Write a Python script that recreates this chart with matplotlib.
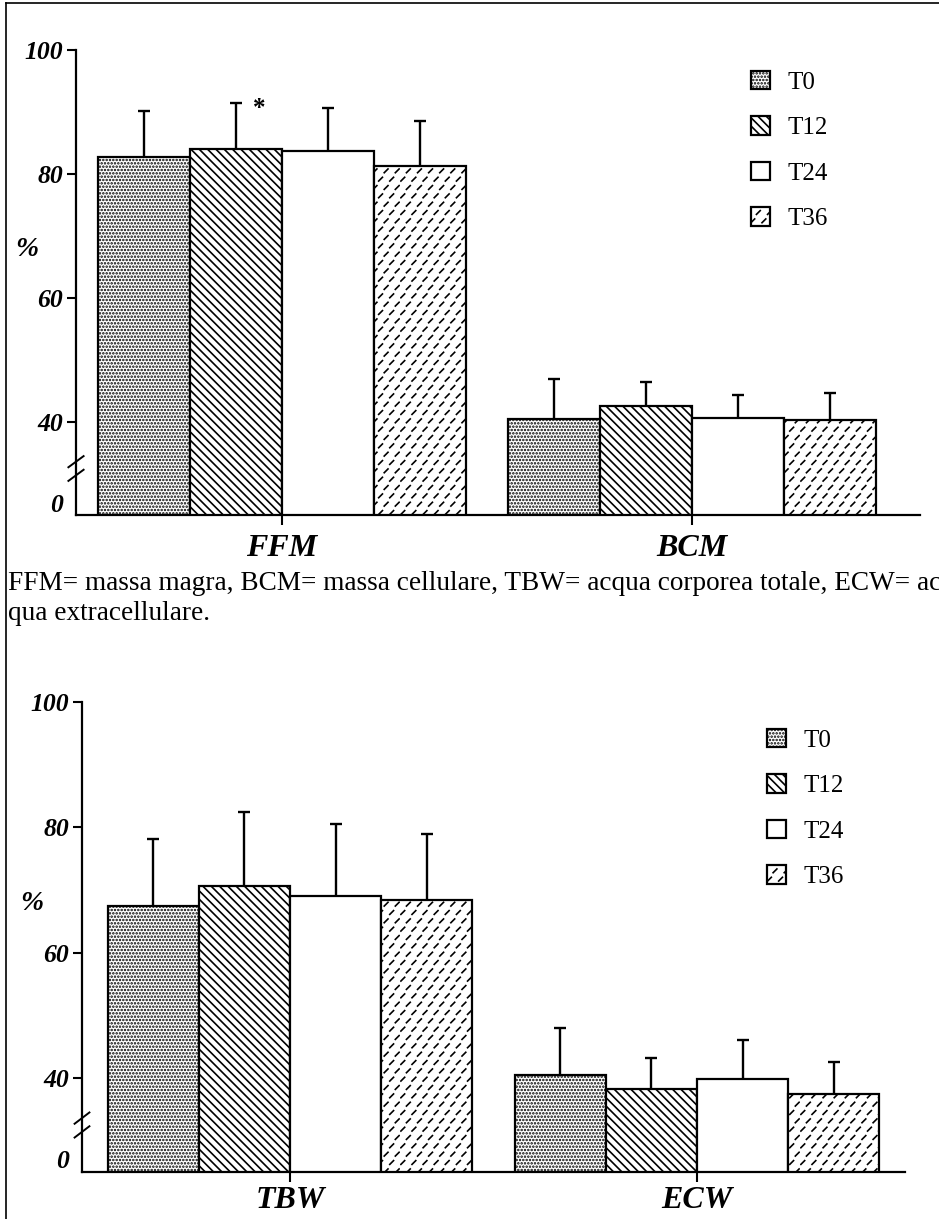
import warnings
import numpy as np
import matplotlib
matplotlib.use('Agg')
import matplotlib.pyplot as plt
import matplotlib.hatch as mhatch
from matplotlib.path import Path
from matplotlib.lines import Line2D

warnings.filterwarnings('ignore')

# dati (media e DS, in %)
series = ['T0', 'T12', 'T24', 'T36']
top_groups = ['FFM', 'BCM']
top_mean = [[82.8, 84.1, 83.7, 81.3], [40.5, 42.5, 40.6, 40.3]]
top_sd = [[7.3, 7.4, 6.9, 7.2], [6.4, 4.0, 3.8, 4.3]]
bottom_groups = ['TBW', 'ECW']
bottom_mean = [[67.5, 70.7, 69.1, 68.4], [40.5, 38.2, 39.9, 37.4]]
bottom_sd = [[10.6, 11.7, 11.4, 10.5], [7.4, 5.0, 6.1, 5.2]]
ytick_vals = [27, 40, 60, 80, 100]
ytick_labels = ['0', '40', '60', '80', '100']
caption = ('FFM= massa magra, BCM= massa cellulare, TBW= acqua corporea totale, ECW= ac\n'
           'qua extracellulare.')


# retino a trattini obliqui per T36
class SlashDashes(mhatch.HatchPatternBase):
    def __init__(self, hatch, density):
        n = hatch.count('d')
        self.rows = 2 * density * n
        self.cols = int(1.5 * density) * n
        self.num_vertices = self.rows * self.cols * 2 if n else 0

    def set_vertices_and_codes(self, vertices, codes):
        half = 0.17 / self.cols
        k = 0
        for r in range(self.rows):
            y = (r + 0.5) / self.rows
            shift = 0.5 if r % 2 else 0.0
            for c in range(self.cols):
                x = (c + 0.25 + shift) / self.cols
                vertices[k] = (x - half, y - half)
                vertices[k + 1] = (x + half, y + half)
                codes[k] = Path.MOVETO
                codes[k + 1] = Path.LINETO
                k += 2


mhatch._hatch_types.append(SlashDashes)

plt.rcParams['font.family'] = ['Liberation Serif', 'DejaVu Serif']
plt.rcParams['hatch.linewidth'] = 1.2

hatches = ['.....', '\\\\\\\\', '', 'd']
width = 0.224

fig = plt.figure(figsize=(9.39, 12.19), dpi=100)


def draw_panel(ax, groups, means, sds, xlim, xpad, star=False):
    x = np.arange(len(groups))
    handles = []
    for i, name in enumerate(series):
        pos = x + (i - 1.5) * width
        vals = [m[i] for m in means]
        err = [s[i] for s in sds]
        b = ax.bar(pos, vals, width, color='white', edgecolor='black',
                   linewidth=1.6, hatch=hatches[i], label=name, zorder=2)
        handles.append(b)
        eb = ax.errorbar(pos, vals, yerr=[np.zeros(len(vals)), err], fmt='none',
                         ecolor='black', elinewidth=1.7, capsize=4, capthick=1.7,
                         zorder=3)
        eb[1][0].set_visible(False)
        if star and i == 1:
            ax.text(pos[0] + 0.056, vals[0] + err[0] - 0.9, '*', fontsize=18,
                    fontweight='bold', ha='center', va='center')
    ax.set_xlim(*xlim)
    ax.set_ylim(25, 100)
    ax.set_xticks(x, groups)
    ax.set_yticks(ytick_vals, ytick_labels)
    ax.tick_params(axis='y', direction='out', length=6.5, width=1.5, pad=3)
    ax.tick_params(axis='x', direction='out', length=7, width=1.5, pad=xpad)
    ax.yaxis.get_major_ticks()[0].tick1line.set_visible(False)
    for lab in ax.get_yticklabels():
        lab.set_fontsize(18.5)
        lab.set_fontweight('bold')
        lab.set_fontstyle('italic')
    for lab in ax.get_xticklabels():
        lab.set_fontsize(23)
        lab.set_fontweight('bold')
        lab.set_fontstyle('italic')
    for side in ['top', 'right']:
        ax.spines[side].set_visible(False)
    for side in ['left', 'bottom']:
        ax.spines[side].set_linewidth(1.6)
    ax.set_ylabel('%', rotation=0, fontsize=20, fontweight='bold',
                  fontstyle='italic', va='center', ha='center')
    # segno di interruzione dell'asse
    tr = ax.get_yaxis_transform()
    for c in [33.6, 31.4]:
        ax.plot([-0.009, 0.009], [c - 0.9, c + 0.9], color='black', lw=1.4,
                transform=tr, clip_on=False, zorder=5)
    return handles


def add_legend(ax, handles, x0, y0):
    ax.legend(handles, series, loc='upper left',
              bbox_to_anchor=(x0 / 939, 1 - y0 / 1219),
              bbox_transform=fig.transFigure, frameon=False, fontsize=18,
              handlelength=0.76, handleheight=0.76, handletextpad=0.68,
              labelspacing=0.9, borderpad=0, borderaxespad=0)


ax1 = fig.add_axes([76 / 939, 1 - 515 / 1219, 844 / 939, 465 / 1219])
h1 = draw_panel(ax1, top_groups, top_mean, top_sd, (-0.502, 1.556), 7, star=True)
ax1.yaxis.set_label_coords(-0.058, 0.57)
add_legend(ax1, h1, 751, 71)

ax2 = fig.add_axes([82 / 939, 1 - 1172 / 1219, 823 / 939, 470 / 1219])
h2 = draw_panel(ax2, bottom_groups, bottom_mean, bottom_sd, (-0.511, 1.511), 3)
ax2.yaxis.set_label_coords(-0.061, 0.572)
add_legend(ax2, h2, 767, 729)

fig.text(8 / 939, 1 - 571 / 1219, caption, fontsize=19.6, va='top', ha='left',
         linespacing=1.28)

# cornice della pagina
fig.add_artist(Line2D([6 / 939, 6 / 939], [0, 1 - 3 / 1219], color='black', lw=1.2))
fig.add_artist(Line2D([6 / 939, 1], [1 - 3 / 1219, 1 - 3 / 1219], color='black', lw=1.2))

fig.savefig('out.png', dpi=100)
